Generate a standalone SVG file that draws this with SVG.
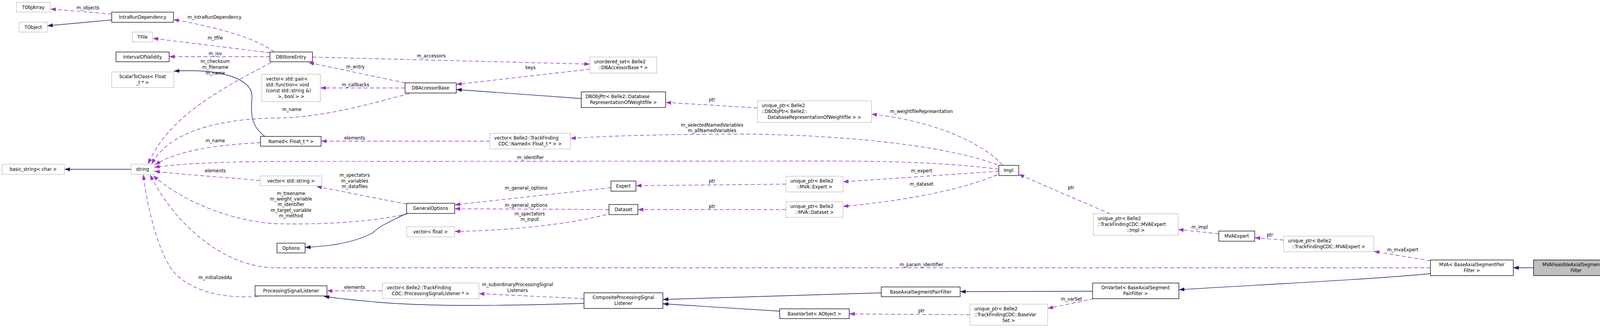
<svg xmlns="http://www.w3.org/2000/svg" width="4149" height="839" viewBox="0 0 4149 839">
<defs>
<style>
text{font-family:"DejaVu Sans","Liberation Sans",sans-serif;font-size:11.5px;fill:#000}
.n rect{fill:#fff;stroke:#000;stroke-width:1.3}
.g rect{fill:#fff;stroke:#bfbfbf;stroke-width:1.3}
.c{text-anchor:middle}
.u{fill:none;stroke:#9a32cd;stroke-width:1.4;stroke-dasharray:10,6;marker-end:url(#ap)}
.i{fill:none;stroke:#191970;stroke-width:1.4;marker-end:url(#ab)}
.l{text-anchor:middle}
</style>
<marker id="ap" markerUnits="userSpaceOnUse" markerWidth="15" markerHeight="11" refX="14" refY="5" orient="auto"><path d="M0,0 L14,5 L0,10 z" fill="#9a32cd"/></marker>
<marker id="ab" markerUnits="userSpaceOnUse" markerWidth="15" markerHeight="11" refX="14" refY="5" orient="auto"><path d="M0,0 L14,5 L0,10 z" fill="#191970"/></marker>
</defs>
<rect width="4149" height="839" fill="#fff"/>
<g id="edges">
<path class="u" d="M286,36 L129,23"/>
<path class="i" d="M286,51 L121,66"/>
<path class="u" d="M702,133 C660,100 560,70 444,50"/>
<path class="u" d="M691,135 L391,98"/>
<path class="u" d="M691,145 L433,145"/>
<path class="i" d="M678,349 C640,320 643,290 645,247 C647,200 560,175 445,182"/>
<path class="u" d="M694,160 C560,230 430,300 379,420"/>
<path class="u" d="M1048,239 C900,280 800,302 700,302 C550,305 430,340 388,420"/>
<path class="u" d="M667,365 C560,370 450,385 397,422"/>
<path class="u" d="M2557,433 C2400,412 2200,412 2100,412 L700,413 C550,414 450,420 395,428"/>
<path class="u" d="M666,462 C560,452 450,445 395,438"/>
<path class="u" d="M1041,522 L810,477"/>
<path class="u" d="M1045,546 C950,570 800,575 700,572 C560,560 450,500 392,449"/>
<path class="u" d="M661,758 C560,765 480,740 440,690 C400,630 375,520 367,446"/>
<path class="u" d="M3662,685 L700,685 C560,680 440,560 384,447"/>
<path class="u" d="M979,744 L837,744"/>
<path class="u" d="M1495,764 L1226,751"/>
<path class="i" d="M1495,776 C1300,782 1100,785 968,773 C900,767 860,763 829,758"/>
<path class="i" d="M2256,749 L1697,766"/>
<path class="i" d="M1996,796 L1697,777"/>
<path class="u" d="M2483,805 L2174,803"/>
<path class="i" d="M2797,745 L2458,746"/>
<path class="u" d="M2800,764 L2682,789"/>
<path class="i" d="M3662,700 C3500,715 3250,727 3018,741"/>
<path class="i" d="M3926,685 L3874,685"/>
<path class="u" d="M3662,667 L3517,643"/>
<path class="u" d="M3286,614 L3212,608"/>
<path class="u" d="M3120,598 L3016,587"/>
<path class="u" d="M2842,547 L2608,446"/>
<path class="u" d="M2566,422 C2520,370 2400,310 2231,292"/>
<path class="u" d="M2553,422 C2450,380 2200,345 1900,343 C1700,343 1550,348 1460,354"/>
<path class="u" d="M2557,438 L2158,465"/>
<path class="u" d="M2553,447 C2450,490 2300,515 2158,528"/>
<path class="u" d="M2012,471 L1628,475"/>
<path class="u" d="M2012,536 L1633,536"/>
<path class="u" d="M1564,480 L1164,524"/>
<path class="u" d="M1559,536 L1164,534"/>
<path class="u" d="M1552,549 C1450,575 1300,590 1164,592"/>
<path class="i" d="M1488,252 L1168,229"/>
<path class="u" d="M1939,276 L1704,262"/>
<path class="u" d="M800,146 L1510,164"/>
<path class="u" d="M1510,177 L1168,216"/>
<path class="u" d="M1037,212 L790,160"/>
<path class="u" d="M1037,225 L820,225"/>
<path class="u" d="M1254,361 L822,361"/>
<path class="i" d="M1043,545 C990,570 970,580 955,595 C900,625 830,630 781,633"/>
<path class="i" d="M336,433 L165,433"/>
<text class="l" x="225" y="24">m_objects</text>
<text class="l" x="549" y="48">m_intraRunDependency</text>
<text class="l" x="551" y="101">m_tfile</text>
<text class="l" x="551" y="141">m_iov</text>
<text class="l" x="551" y="161">m_checksum</text>
<text class="l" x="551" y="176">m_filename</text>
<text class="l" x="551" y="191">m_name</text>
<text class="l" x="747" y="284">m_name</text>
<text class="l" x="551" y="364">m_name</text>
<text class="l" x="1358" y="407">m_identifier</text>
<text class="l" x="551" y="441">elements</text>
<text class="l" x="908" y="452">m_spectators</text>
<text class="l" x="908" y="467">m_variables</text>
<text class="l" x="908" y="481">m_datafiles</text>
<text class="l" x="745" y="499">m_treename</text>
<text class="l" x="745" y="513">m_weight_variable</text>
<text class="l" x="745" y="527">m_identifier</text>
<text class="l" x="745" y="542">m_target_variable</text>
<text class="l" x="745" y="556">m_method</text>
<text class="l" x="551" y="714">m_initializedAs</text>
<text class="l" x="2359" y="681">m_param_identifier</text>
<text class="l" x="908" y="739">elements</text>
<text class="l" x="1325" y="732">m_subordinaryProcessingSignal</text>
<text class="l" x="1325" y="747">Listeners</text>
<text class="l" x="2359" y="799">ptr</text>
<text class="l" x="2743" y="769">m_varSet</text>
<text class="l" x="3591" y="643">m_mvaExpert</text>
<text class="l" x="3251" y="605">ptr</text>
<text class="l" x="3071" y="585">m_impl</text>
<text class="l" x="2742" y="484">ptr</text>
<text class="l" x="2359" y="289">m_weightfileRepresentation</text>
<text class="l" x="1823" y="324">m_selectedNamedVariables</text>
<text class="l" x="1823" y="338">m_allNamedVariables</text>
<text class="l" x="2359" y="441">m_expert</text>
<text class="l" x="2359" y="475">m_dataset</text>
<text class="l" x="1823" y="467">ptr</text>
<text class="l" x="1823" y="532">ptr</text>
<text class="l" x="1347" y="485">m_general_options</text>
<text class="l" x="1347" y="529">m_general_options</text>
<text class="l" x="1356" y="551">m_spectators</text>
<text class="l" x="1356" y="565">m_input</text>
<text class="l" x="1823" y="259">ptr</text>
<text class="l" x="1104" y="147">m_accessors</text>
<text class="l" x="1358" y="177">keys</text>
<text class="l" x="910" y="175">m_entry</text>
<text class="l" x="910" y="221">m_callbacks</text>
<text class="l" x="908" y="357">elements</text>
</g>
<g id="TObjArray" class="g"><rect x="42" y="6" width="87" height="25"/><text class="c" x="85" y="23">TObjArray</text></g>
<g id="TObject" class="g"><rect x="49" y="57" width="72" height="25"/><text class="c" x="85" y="74">TObject</text></g>
<g id="IntraRunDependency" class="n"><rect x="286" y="31" width="158" height="26"/><text class="c" x="365" y="48">IntraRunDependency</text></g>
<g id="TFile" class="g"><rect x="339" y="82" width="52" height="25"/><text class="c" x="365" y="99">TFile</text></g>
<g id="IntervalOfValidity" class="n"><rect x="297" y="133" width="136" height="25"/><text class="c" x="365" y="150">IntervalOfValidity</text></g>
<g id="ScalarToClass" class="g"><rect x="286" y="184" width="159" height="40"/><text class="c" x="365" y="200">ScalarToClass&lt; Float</text><text class="c" x="365" y="215">_t * &gt;</text></g>
<g id="DBStoreEntry" class="n"><rect x="691" y="133" width="109" height="25"/><text class="c" x="745" y="150">DBStoreEntry</text></g>
<g id="vectorPair" class="g"><rect x="670" y="190" width="150" height="70"/><text x="681" y="206">vector&lt; std::pair&lt;</text><text x="681" y="221">std::function&lt; void</text><text x="681" y="236">(const std::string &amp;)</text><text class="c" x="745" y="251">&gt;, bool &gt; &gt;</text></g>
<g id="Named" class="n"><rect x="667" y="349" width="155" height="25"/><text class="c" x="745" y="366">Named&lt; Float_t * &gt;</text></g>
<g id="basic_string" class="g"><rect x="5" y="420" width="160" height="26"/><text class="c" x="85" y="437">basic_string&lt; char &gt;</text></g>
<g id="string" class="g"><rect x="336" y="420" width="59" height="26"/><text class="c" x="365" y="437">string</text></g>
<g id="vectorString" class="g"><rect x="666" y="450" width="158" height="25"/><text class="c" x="745" y="467">vector&lt; std::string &gt;</text></g>
<g id="ProcessingSignalListener" class="n"><rect x="653" y="731" width="184" height="26"/><text class="c" x="745" y="748">ProcessingSignalListener</text></g>
<g id="DBAccessorBase" class="n"><rect x="1037" y="212" width="131" height="26"/><text class="c" x="1102" y="229">DBAccessorBase</text></g>
<g id="vectorNamed" class="g"><rect x="1254" y="341" width="206" height="40"/><text x="1265" y="357">vector&lt; Belle2::TrackFinding</text><text class="c" x="1357" y="372">CDC::Named&lt; Float_t * &gt; &gt;</text></g>
<g id="GeneralOptions" class="n"><rect x="1041" y="520" width="123" height="26"/><text class="c" x="1102" y="537">GeneralOptions</text></g>
<g id="vectorFloat" class="g"><rect x="1041" y="580" width="123" height="26"/><text class="c" x="1102" y="597">vector&lt; float &gt;</text></g>
<g id="Options" class="n"><rect x="709" y="622" width="72" height="25"/><text class="c" x="745" y="639">Options</text></g>
<g id="vectorPSL" class="g"><rect x="979" y="724" width="247" height="40"/><text x="990" y="740">vector&lt; Belle2::TrackFinding</text><text class="c" x="1102" y="755">CDC::ProcessingSignalListener * &gt;</text></g>
<g id="unordered_set" class="g"><rect x="1510" y="146" width="171" height="41"/><text x="1521" y="162">unordered_set&lt; Belle2</text><text class="c" x="1595" y="177">::DBAccessorBase * &gt;</text></g>
<g id="DBObjPtr" class="n"><rect x="1488" y="235" width="216" height="40"/><text x="1499" y="251">DBObjPtr&lt; Belle2::Database</text><text class="c" x="1596" y="266">RepresentationOfWeightfile &gt;</text></g>
<g id="uptrDBObjPtr" class="g"><rect x="1939" y="258" width="292" height="55"/><text x="1950" y="274">unique_ptr&lt; Belle2</text><text x="1950" y="289">::DBObjPtr&lt; Belle2::</text><text class="c" x="2085" y="304">DatabaseRepresentationOfWeightfile &gt; &gt;</text></g>
<g id="Expert" class="n"><rect x="1564" y="463" width="64" height="26"/><text class="c" x="1596" y="480">Expert</text></g>
<g id="Dataset" class="n"><rect x="1559" y="523" width="74" height="26"/><text class="c" x="1596" y="540">Dataset</text></g>
<g id="uptrExpert" class="g"><rect x="2012" y="451" width="146" height="40"/><text x="2023" y="467">unique_ptr&lt; Belle2</text><text class="c" x="2085" y="482">::MVA::Expert &gt;</text></g>
<g id="uptrDataset" class="g"><rect x="2012" y="516" width="146" height="40"/><text x="2023" y="532">unique_ptr&lt; Belle2</text><text class="c" x="2085" y="547">::MVA::Dataset &gt;</text></g>
<g id="CompositeProcessingSignalListener" class="n"><rect x="1495" y="749" width="202" height="40"/><text class="c" x="1596" y="765">CompositeProcessingSignal</text><text class="c" x="1596" y="780">Listener</text></g>
<g id="BaseVarSet" class="n"><rect x="1996" y="790" width="178" height="25"/><text class="c" x="2085" y="807">BaseVarSet&lt; AObject &gt;</text></g>
<g id="Impl" class="n"><rect x="2557" y="423" width="51" height="26"/><text class="c" x="2582" y="440">Impl</text></g>
<g id="BaseAxialSegmentPairFilter" class="n"><rect x="2256" y="734" width="202" height="25"/><text class="c" x="2357" y="751">BaseAxialSegmentPairFilter</text></g>
<g id="uptrBaseVarSet" class="g"><rect x="2483" y="778" width="199" height="54"/><text x="2494" y="794">unique_ptr&lt; Belle2</text><text x="2494" y="809">::TrackFindingCDC::BaseVar</text><text class="c" x="2582" y="824">Set &gt;</text></g>
<g id="uptrImpl" class="g"><rect x="2799" y="547" width="217" height="55"/><text x="2810" y="563">unique_ptr&lt; Belle2</text><text x="2810" y="578">::TrackFindingCDC::MVAExpert</text><text class="c" x="2907" y="593">::Impl &gt;</text></g>
<g id="MVAExpert" class="n"><rect x="3120" y="591" width="92" height="26"/><text class="c" x="3166" y="608">MVAExpert</text></g>
<g id="uptrMVAExpert" class="g"><rect x="3286" y="604" width="231" height="40"/><text x="3297" y="620">unique_ptr&lt; Belle2</text><text class="c" x="3401" y="635">::TrackFindingCDC::MVAExpert &gt;</text></g>
<g id="OnVarSet" class="n"><rect x="2797" y="724" width="221" height="40"/><text class="c" x="2907" y="740">OnVarSet&lt; BaseAxialSegment</text><text class="c" x="2907" y="755">PairFilter &gt;</text></g>
<g id="MVA" class="n"><rect x="3662" y="665" width="212" height="40"/><text class="c" x="3768" y="681">MVA&lt; BaseAxialSegmentPair</text><text class="c" x="3768" y="696">Filter &gt;</text></g>
<g id="MVAFeasible" class="n"><rect x="3926" y="665" width="219" height="40" style="fill:#bfbfbf"/><text class="c" x="4035" y="681">MVAFeasibleAxialSegmentPair</text><text class="c" x="4035" y="696">Filter</text></g>
</svg>
